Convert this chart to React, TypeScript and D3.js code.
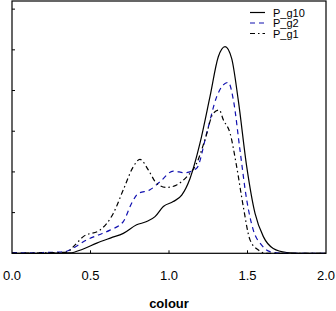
import React from 'react';
import * as d3 from 'd3';

// colour values (x) and density estimates (y, in axis tick units)
const g10X = [0, 0.2, 0.37, 0.45, 0.54, 0.63, 0.709, 0.794, 0.858, 0.911, 0.964, 1.027, 1.081, 1.134, 1.197, 1.261, 1.314, 1.357, 1.399, 1.441, 1.495, 1.548, 1.601, 1.664, 1.75, 1.83, 2.0];
const g10Y = [0, 0, 0.01, 0.1, 0.25, 0.38, 0.49, 0.7, 0.78, 0.9, 1.15, 1.27, 1.43, 1.84, 2.7, 3.85, 4.83, 5.08, 4.79, 3.77, 2.13, 0.98, 0.41, 0.12, 0.02, 0, 0];

const g2X = [0, 0.1, 0.2, 0.3, 0.338, 0.4, 0.476, 0.55, 0.624, 0.709, 0.762, 0.804, 0.879, 0.943, 1.027, 1.102, 1.176, 1.24, 1.304, 1.346, 1.378, 1.41, 1.452, 1.495, 1.537, 1.59, 1.643, 1.73, 2.0];
const g2Y = [0.02, 0.01, 0.02, 0.03, 0.04, 0.15, 0.33, 0.45, 0.57, 0.78, 1.23, 1.47, 1.56, 1.76, 2.02, 1.98, 2.09, 2.95, 3.85, 4.14, 4.2, 3.77, 2.54, 1.31, 0.57, 0.2, 0.04, 0, 0];

const g1X = [0, 0.2, 0.35, 0.4, 0.454, 0.56, 0.645, 0.709, 0.773, 0.815, 0.868, 0.921, 0.985, 1.049, 1.113, 1.176, 1.229, 1.282, 1.32, 1.346, 1.389, 1.431, 1.473, 1.516, 1.569, 1.62, 2.0];
const g1Y = [0, 0.01, 0.03, 0.2, 0.41, 0.57, 0.98, 1.56, 2.13, 2.31, 2.05, 1.72, 1.62, 1.68, 1.88, 2.21, 2.79, 3.44, 3.52, 3.28, 2.95, 2.13, 1.15, 0.33, 0.08, 0, 0];

const seriesNames = ['P_g10', 'P_g2', 'P_g1'];
const xTicks = [0, 0.5, 1.0, 1.5, 2.0];
const yTicks = [0, 1, 2, 3, 4, 5, 6];

const W = 336;
const H = 311;
const left = 12, right = 326, top = 1, bottom = 253.3;

export default function App() {
  const x = d3.scaleLinear().domain([0, 2]).range([left, right]);
  const y = d3.scaleLinear().domain([0, 6.2]).range([bottom, top]);

  const line = d3
    .line<[number, number]>()
    .x((d) => x(d[0]))
    .y((d) => y(d[1]))
    .curve(d3.curveMonotoneX);

  const series = [
    { name: seriesNames[0], pts: g10X.map((v, i) => [v, g10Y[i]] as [number, number]), color: '#000', dash: '' },
    { name: seriesNames[1], pts: g2X.map((v, i) => [v, g2Y[i]] as [number, number]), color: '#1010b0', dash: '5,4' },
    { name: seriesNames[2], pts: g1X.map((v, i) => [v, g1Y[i]] as [number, number]), color: '#000', dash: '5,3,1.5,3' },
  ];

  const font = '"Liberation Sans", Arial, sans-serif';

  return (
    <svg
      width={W}
      height={H}
      style={{ position: 'absolute', left: 0, top: 0, background: '#fff' }}
      fontFamily={font}
    >
      {/* curves */}
      <g fill="none" strokeWidth={1.2}>
        {series.map((s) => (
          <path key={s.name} d={line(s.pts) || ''} stroke={s.color} strokeDasharray={s.dash} />
        ))}
      </g>

      {/* frame */}
      <rect x={left} y={top} width={right - left} height={bottom - top} fill="none" stroke="#000" strokeWidth={1.2} />

      {/* left ticks (inward) */}
      {yTicks.map((t) => (
        <line key={'y' + t} x1={left} x2={left + 3} y1={y(t)} y2={y(t)} stroke="#000" strokeWidth={1} />
      ))}

      {/* bottom ticks + labels */}
      {xTicks.map((t) => (
        <g key={'x' + t}>
          {t > 0 && t < 2 && (
            <line x1={x(t)} x2={x(t)} y1={bottom} y2={bottom - 3} stroke="#000" strokeWidth={1} />
          )}
          <text x={x(t)} y={280} textAnchor="middle" fontSize={13} fill="#000">
            {t.toFixed(1)}
          </text>
        </g>
      ))}

      <text x={x(1)} y={308} textAnchor="middle" fontSize={13} fontWeight="bold" fill="#000">
        colour
      </text>

      {/* legend */}
      {series.map((s, i) => (
        <g key={'lg' + s.name} transform={`translate(0,${12.5 + i * 10.5})`}>
          <line x1={250} x2={265} y1={0} y2={0} stroke={s.color} strokeWidth={1.2} strokeDasharray={s.dash} />
          <text x={273} y={4} fontSize={11} fill="#000">
            {s.name}
          </text>
        </g>
      ))}
    </svg>
  );
}
